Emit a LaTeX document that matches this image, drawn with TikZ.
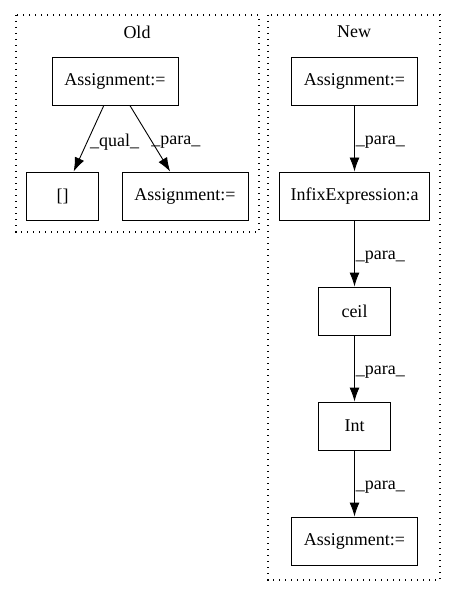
\documentclass[tikz,border=0pt]{standalone}
\usepackage{fontspec}
\setmainfont{Liberation Serif}
\usetikzlibrary{arrows.meta}
\tikzset{
  box/.style={draw, line width=0.9pt, minimum height=48pt, inner sep=0pt,
    font=\fontsize{18}{20}\selectfont},
  edge/.style={line width=0.9pt, -{Latex[length=14pt,width=10pt]}},
  lbl/.style={right, inner sep=1pt, yshift=-4pt, font=\fontsize{18}{20}\selectfont},
  cluster/.style={line width=1.2pt, dash pattern=on 1.3pt off 4.7pt},
  title/.style={font=\fontsize{18}{20}\selectfont}
}
\begin{document}
\begin{tikzpicture}[x=1pt,y=-1pt]
  \useasboundingbox (0,0) rectangle (456,596);
  % clusters
  \draw[cluster]
    (16,15) rectangle (259,232)
    (268,15) rectangle (440,580)
  ;
  \node[title] (tOld) at (137,32) {Old};
  \node[title] (tNew) at (354,32) {New};

  % old
  \node[box, minimum width=126pt] (asgOld) at (115,81) {Assignment:=};
  \node[box, minimum width=72pt] (brk) at (62.5,196) {[]};
  \node[box, minimum width=126pt] (asgOldB) at (185,196) {Assignment:=};

  % new
  \node[box, minimum width=126pt] (asgNew) at (354.5,81) {Assignment:=};
  \node[box, minimum width=150pt] (infix) at (354.5,196) {InfixExpression:a};
  \node[box, minimum width=72pt] (ceil) at (354.5,311) {ceil};
  \node[box, minimum width=72pt] (int) at (354.5,426) {Int};
  \node[box, minimum width=126pt] (asgNewB) at (354.5,541) {Assignment:=};

  \draw[edge] (asgOld) -- (brk) node[midway, lbl] {\_qual\_};
  \draw[edge] (asgOld) -- (asgOldB) node[midway, lbl] {\_para\_};
  \draw[edge] (asgNew) -- (infix) node[midway, lbl] {\_para\_};
  \draw[edge] (infix) -- (ceil) node[midway, lbl] {\_para\_};
  \draw[edge] (ceil) -- (int) node[midway, lbl] {\_para\_};
  \draw[edge] (int) -- (asgNewB) node[midway, lbl] {\_para\_};
\end{tikzpicture}
\end{document}
